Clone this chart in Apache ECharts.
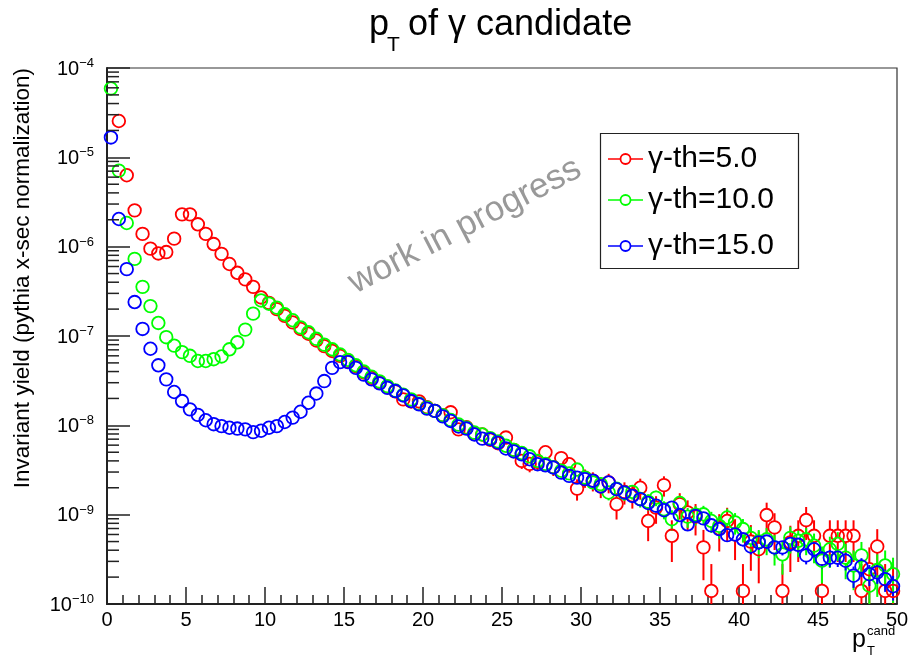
<!DOCTYPE html>
<html>
<head>
<meta charset="utf-8">
<script src="https://cdn.jsdelivr.net/npm/echarts@6/dist/echarts.min.js"></script>
<style>
  html, body { margin: 0; padding: 0; background: #fff; }
  #chart { width: 908px; height: 658px; }
</style>
</head>
<body>
<div id="chart"></div>
<script>
// bin centres of the pT histogram (0.5 wide bins, 0-50)
const ptCenters = Array.from({ length: 100 }, (_, i) => 0.25 + 0.5 * i);

// invariant yield per bin
const yieldTh5 = [
  null, 2.55e-5, 6.3e-6, 2.55e-6, 1.39e-6, 9.5e-7, 8.4e-7, 8.7e-7, 1.23e-6, 2.3e-6,
  2.3e-6, 1.78e-6, 1.39e-6, 1.07e-6, 8.3e-7, 6.4e-7, 5.1e-7, 4.3e-7, 3.55e-7, 2.7e-7,
  2.35e-7, 2.0e-7, 1.68e-7, 1.42e-7, 1.2e-7, 1.06e-7, 8.9e-8, 7.7e-8, 6.8e-8, 6.0e-8,
  5.2e-8, 4.6e-8, 3.9e-8, 3.4e-8, 3.0e-8, 2.7e-8, 2.4e-8, 1.95e-8, 1.85e-8, 1.85e-8,
  1.6e-8, 1.45e-8, 1.3e-8, 1.4e-8, 9e-9, 9.5e-9, 8e-9, 7.9e-9, 6.9e-9, 6.3e-9,
  7.3e-9, 5.3e-9, 4.0e-9, 3.7e-9, 3.9e-9, 5.0e-9, 3.4e-9, 4.3e-9, 3.67e-9, 1.96e-9,
  2.6e-9, 2.4e-9, 2.07e-9, 2.3e-9, 1.31e-9, 1.8e-9, 1.65e-9, 2.0e-9, 8.5e-10, 1.2e-9,
  2.14e-9, 5.8e-10, 1.31e-9, 1.06e-9, 9.5e-10, 4.3e-10, 1.4e-10, 7e-10, 8.5e-10, 6e-10,
  1.4e-10, 5e-10, 4.1e-10, 9.9e-10, 7.2e-10, 1.4e-10, 4.9e-10, 5.8e-10, 8.7e-10, 5.8e-10,
  1.4e-10, 5.8e-10, 5.8e-10, 5.8e-10, 5.8e-10, 1.4e-10, 2.45e-10, 4.4e-10, 1.4e-10, 1.4e-10
];
const yieldTh10 = [
  5.9e-5, 7.1e-6, 1.84e-6, 7.3e-7, 3.55e-7, 2.16e-7, 1.4e-7, 9.7e-8, 7.8e-8, 6.6e-8,
  6.0e-8, 5.25e-8, 5.25e-8, 5.5e-8, 5.9e-8, 7.1e-8, 8.5e-8, 1.18e-7, 1.78e-7, 2.5e-7,
  2.3e-7, 2.08e-7, 1.75e-7, 1.5e-7, 1.25e-7, 1.1e-7, 9.3e-8, 8.0e-8, 7.1e-8, 6.2e-8,
  5.4e-8, 4.7e-8, 4.0e-8, 3.5e-8, 3.1e-8, 2.75e-8, 2.45e-8, 2.2e-8, 1.95e-8, 1.75e-8,
  1.58e-8, 1.45e-8, 1.3e-8, 1.15e-8, 1.02e-8, 9.4e-9, 8.3e-9, 7.9e-9, 7.2e-9, 6.6e-9,
  5.9e-9, 5.3e-9, 4.9e-9, 4.5e-9, 4.0e-9, 3.7e-9, 3.4e-9, 3.1e-9, 2.9e-9, 3.2e-9,
  2.6e-9, 2.3e-9, 2.2e-9, 1.77e-9, 1.95e-9, 1.75e-9, 1.8e-9, 1.5e-9, 1.4e-9, 1.55e-9,
  1.15e-9, 8.9e-10, 1.35e-9, 9.5e-10, 1.0e-9, 1.01e-9, 8.5e-10, 7.5e-10, 9.3e-10, 8.2e-10,
  6.9e-10, 5.5e-10, 5.0e-10, 5.3e-10, 4.3e-10, 3.6e-10, 5.5e-10, 5.1e-10, 5.3e-10, 4.5e-10,
  3.05e-10, 4.1e-10, 4.7e-10, 3.3e-10, 2.7e-10, 3.5e-10, 1.6e-10, 2.4e-10, 2.7e-10, 2.16e-10
];
const yieldTh15 = [
  1.67e-5, 2.04e-6, 5.6e-7, 2.4e-7, 1.2e-7, 7.2e-8, 4.7e-8, 3.27e-8, 2.36e-8, 1.87e-8,
  1.51e-8, 1.31e-8, 1.14e-8, 1.03e-8, 9.8e-9, 9.4e-9, 9.2e-9, 9.0e-9, 8.4e-9, 8.7e-9,
  9.4e-9, 9.8e-9, 1.09e-8, 1.22e-8, 1.42e-8, 1.79e-8, 2.27e-8, 3.13e-8, 4.4e-8, 5.1e-8,
  5.1e-8, 4.4e-8, 3.7e-8, 3.27e-8, 2.95e-8, 2.63e-8, 2.42e-8, 2.16e-8, 1.87e-8, 1.72e-8,
  1.54e-8, 1.45e-8, 1.26e-8, 1.12e-8, 9.7e-9, 9.2e-9, 7.9e-9, 7.1e-9, 7.0e-9, 6.4e-9,
  5.5e-9, 5.1e-9, 4.74e-9, 4.17e-9, 3.67e-9, 3.57e-9, 3.37e-9, 2.96e-9, 2.72e-9, 2.6e-9,
  2.5e-9, 2.4e-9, 2.07e-9, 2.29e-9, 1.93e-9, 1.77e-9, 1.62e-9, 1.49e-9, 1.35e-9, 1.26e-9,
  1.12e-9, 1.2e-9, 9.9e-10, 7.8e-10, 9.7e-10, 9.1e-10, 7.6e-10, 6.9e-10, 5.9e-10, 6.0e-10,
  5.3e-10, 4.4e-10, 4.9e-10, 5.0e-10, 4.3e-10, 4.3e-10, 4.7e-10, 4.6e-10, 3.5e-10, 4.1e-10,
  3.2e-10, 3.3e-10, 3.3e-10, 3.05e-10, 2.07e-10, 2.63e-10, 2.16e-10, 2.26e-10, 1.9e-10, 1.58e-10
];

// weight of a single entry in each histogram (poisson errors = sqrt(N) * w)
const entryWeights = [1.4e-10, 6e-11, 1.5e-11];

const seriesNames = ['γ-th=5.0', 'γ-th=10.0', 'γ-th=15.0'];
const seriesColors = ['#ff0000', '#00ff00', '#0000ff'];
const allYields = [yieldTh5, yieldTh10, yieldTh15];

const xTicks = [0, 5, 10, 15, 20, 25, 30, 35, 40, 45, 50];
const yDecades = [-10, -9, -8, -7, -6, -5, -4];

const FONT = '"Liberation Sans", Arial, Helvetica, sans-serif';
const markerRadius = 6.3;

// minor tick positions on the log axis (2..9 x 10^n)
const yMinorTicks = [];
for (let d = 0; d < yDecades.length - 1; d += 1) {
  for (let m = 2; m <= 9; m += 1) {
    yMinorTicks.push([0, m * Math.pow(10, yDecades[d])]);
  }
}

function errorBarItem(params, api) {
  const x = api.value(0);
  const y = api.value(1);
  const err = api.value(2);
  const c = api.coord([x, y]);
  const cs = params.coordSys;
  const yTop = Math.max(cs.y, api.coord([x, y + err])[1]);
  const low = y - err;
  const yBot = low > 0 ? Math.min(cs.y + cs.height, api.coord([x, low])[1]) : cs.y + cs.height;
  const style = { stroke: api.visual('color'), lineWidth: 2 };
  const children = [];
  if (c[1] - markerRadius > yTop + 0.5) {
    children.push({ type: 'line', shape: { x1: c[0], y1: yTop, x2: c[0], y2: c[1] - markerRadius }, style });
  }
  if (yBot > c[1] + markerRadius + 0.5) {
    children.push({ type: 'line', shape: { x1: c[0], y1: c[1] + markerRadius, x2: c[0], y2: yBot }, style });
  }
  return { type: 'group', children };
}

function minorTickItem(params, api) {
  const c = api.coord([api.value(0), api.value(1)]);
  return {
    type: 'line',
    shape: { x1: c[0], y1: c[1], x2: c[0] + 12, y2: c[1] },
    style: { stroke: '#222', lineWidth: 1.5 }
  };
}

const series = [];
allYields.forEach((vals, s) => {
  const pts = [];
  const errs = [];
  vals.forEach((v, i) => {
    if (v == null) return;
    pts.push([ptCenters[i], v]);
    errs.push([ptCenters[i], v, Math.sqrt(v * entryWeights[s])]);
  });
  series.push({
    type: 'custom',
    name: seriesNames[s] + ' err',
    renderItem: errorBarItem,
    data: errs,
    clip: true,
    silent: true,
    itemStyle: { color: seriesColors[s] },
    z: 2
  });
  series.push({
    type: 'scatter',
    name: seriesNames[s],
    data: pts,
    symbol: 'circle',
    symbolSize: markerRadius * 2,
    itemStyle: { color: 'rgba(0,0,0,0)', borderColor: seriesColors[s], borderWidth: 1.8, opacity: 1 },
    emphasis: { disabled: true },
    z: 3
  });
});
series.push({
  type: 'custom',
  renderItem: minorTickItem,
  data: yMinorTicks,
  silent: true,
  z: 4
});

const chart = echarts.init(document.getElementById('chart'));

const legendRows = [159, 200, 246];
const legendGraphics = [{
  type: 'rect',
  shape: { x: 600.5, y: 133.5, width: 198, height: 135 },
  style: { fill: '#fff', stroke: '#222', lineWidth: 1.2 },
  z: 10
}];
seriesNames.forEach((name, i) => {
  legendGraphics.push({
    type: 'line',
    shape: { x1: 608, y1: legendRows[i], x2: 643, y2: legendRows[i] },
    style: { stroke: seriesColors[i], lineWidth: 1.5 },
    z: 11
  });
  legendGraphics.push({
    type: 'circle',
    shape: { cx: 625.5, cy: legendRows[i], r: 5 },
    style: { fill: '#fff', stroke: seriesColors[i], lineWidth: 1.8 },
    z: 12
  });
  legendGraphics.push({
    type: 'text',
    x: 648,
    y: legendRows[i],
    style: { text: name, font: '30px ' + FONT, fill: '#000', textVerticalAlign: 'middle' },
    z: 12
  });
});

// title pieces: p, subscript T, rest
const titleGraphics = [
  { type: 'text', x: 369, y: 25, style: { text: 'p', font: '36px ' + FONT, fill: '#000', textVerticalAlign: 'middle' } },
  { type: 'text', x: 387, y: 45, style: { text: 'T', font: '21px ' + FONT, fill: '#000', textVerticalAlign: 'middle' } },
  { type: 'text', x: 408, y: 25, style: { text: 'of γ candidate', font: '36px ' + FONT, fill: '#000', textVerticalAlign: 'middle' } }
];

chart.setOption({
  animation: false,
  backgroundColor: '#fff',
  grid: {
    left: 107, right: 11, top: 68, bottom: 54,
    show: true, borderColor: '#333', borderWidth: 1.2,
    containLabel: false,
    outerBoundsMode: 'none'
  },
  xAxis: {
    type: 'value',
    min: 0, max: 50, interval: 5,
    axisLine: { show: true, onZero: false, lineStyle: { color: '#222', width: 2 } },
    axisTick: { show: true, inside: true, length: 17, lineStyle: { color: '#222', width: 1.5 } },
    minorTick: { show: true, splitNumber: 5, length: 9, lineStyle: { color: '#222', width: 1.5 } },
    splitLine: { show: false },
    minorSplitLine: { show: false },
    axisLabel: {
      fontSize: 20, fontFamily: FONT, color: '#000', margin: 6,
      formatter: (v) => (xTicks.indexOf(v) >= 0 ? String(v) : '')
    }
  },
  yAxis: {
    type: 'log',
    logBase: 10,
    min: 1e-10, max: 1e-4,
    splitNumber: 6,
    axisLine: { show: true, onZero: false, lineStyle: { color: '#222', width: 2 } },
    axisTick: { show: true, inside: true, length: 23, lineStyle: { color: '#222', width: 1.5 } },
    splitLine: { show: false },
    axisLabel: {
      margin: 13,
      formatter: (v) => {
        const e = Math.round(Math.log10(v));
        if (yDecades.indexOf(e) < 0) return '';
        return '{b|10}{s|−' + Math.abs(e) + '}';
      },
      rich: {
        b: { fontSize: 20, fontFamily: FONT, color: '#000', lineHeight: 22, padding: [4, 0, 0, 0], verticalAlign: 'bottom' },
        s: { fontSize: 13, fontFamily: FONT, color: '#000', lineHeight: 15, verticalAlign: 'top' }
      }
    }
  },
  graphic: [
    {
      type: 'text',
      x: 23, y: 68,
      rotation: Math.PI / 2,
      style: {
        text: 'Invariant yield (pythia x-sec normalization)',
        font: '22.5px ' + FONT, fill: '#000',
        textAlign: 'right', textVerticalAlign: 'middle'
      }
    },
    {
      type: 'text',
      x: 465, y: 226,
      rotation: 27.5 * Math.PI / 180,
      style: {
        text: 'work in progress',
        font: '35px ' + FONT, fill: '#999',
        textAlign: 'center', textVerticalAlign: 'middle'
      }
    },
    {
      type: 'text', x: 852, y: 640,
      style: { text: 'p', font: '25px ' + FONT, fill: '#000', textVerticalAlign: 'middle' }
    },
    {
      type: 'text', x: 867, y: 631,
      style: { text: 'cand', font: '13px ' + FONT, fill: '#000', textVerticalAlign: 'middle' }
    },
    {
      type: 'text', x: 867, y: 651,
      style: { text: 'T', font: '13px ' + FONT, fill: '#000', textVerticalAlign: 'middle' }
    }
  ].concat(titleGraphics, legendGraphics),
  series
});
</script>
</body>
</html>
